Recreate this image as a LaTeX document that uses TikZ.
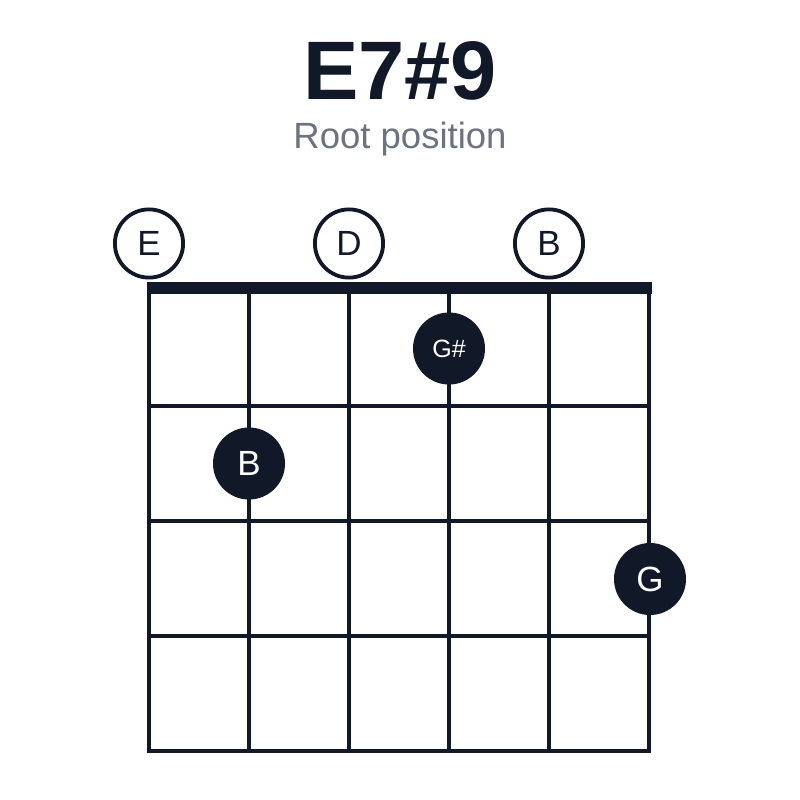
\documentclass[tikz,border=0pt]{standalone}
\usepackage{fontspec}
\setmainfont{Liberation Sans}
\definecolor{ink}{HTML}{111827}
\definecolor{subgray}{HTML}{6B7280}
\tikzset{
  opendot/.style={circle,draw=ink,line width=3.8pt,fill=white,minimum size=68.2pt,inner sep=0pt,text=ink,font=\fontsize{35}{35}\selectfont},
  fretdot/.style={circle,fill=ink,minimum size=72pt,inner sep=0pt,text=white,font=\fontsize{35}{35}\selectfont},
}
\begin{document}
\begin{tikzpicture}[x=1pt,y=-1pt,line cap=butt]
				\useasboundingbox[fill=white] (0,0) rectangle (800,800);
				\node[anchor=base,text=ink,font=\fontsize{83}{83}\selectfont\bfseries] (title) at (400,99) {E7\#9};
				\node[anchor=base,text=subgray,font=\fontsize{36.5}{36.5}\selectfont] (subtitle) at (400,148) {Root position};
				% strings
				\foreach \s in {0,...,5}
				\draw[ink,line width=3.3pt] (149+\s*100,288) -- (149+\s*100,751);
				% frets
				\foreach \f in {1,...,4}
				\draw[ink,line width=3.3pt] (147.4,291+\f*115) -- (650.6,291+\f*115);
				% nut
				\draw[ink,line width=12pt] (147.4,288) -- (652,288);
				% open strings
				\node[opendot] (openE) at (149,243.5) {E};
				\node[opendot] (openD) at (349,243.5) {D};
				\node[opendot] (openB) at (549,243.5) {B};
				% fretted notes
				\node[fretdot,font=\fontsize{25}{25}\selectfont] (noteGs) at (449,348.5) {G\#};
				\node[fretdot] (noteB) at (249,463.5) {B};
				\node[fretdot] (noteG) at (650,579) {G};
\end{tikzpicture}
\end{document}
